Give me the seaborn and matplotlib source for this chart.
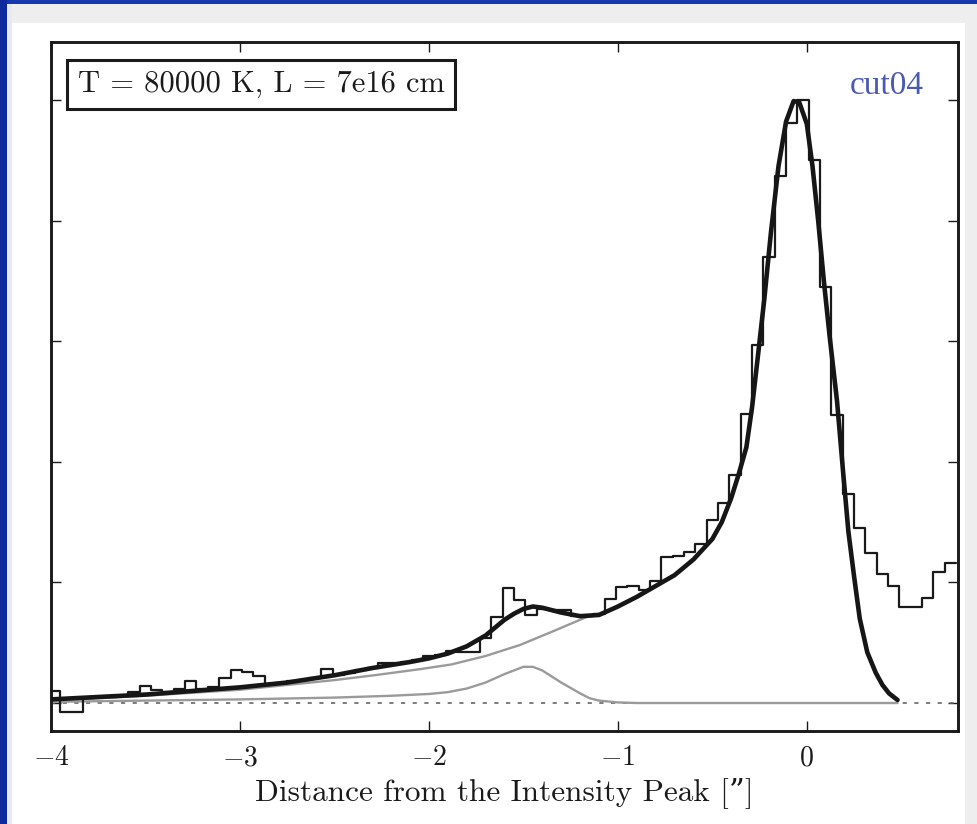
import numpy as np
import matplotlib
matplotlib.use("Agg")
import matplotlib.pyplot as plt
import seaborn as sns
from matplotlib.patches import Rectangle

# ---------------- data ----------------
bin_start = -4.01
bin_width = 0.06
hist_vals = [0.10, -0.075, -0.075, 0.04, 0.05, 0.05, 0.06, 0.09, 0.14, 0.11,
             0.09, 0.12, 0.18, 0.12, 0.13, 0.21, 0.27, 0.26, 0.22, 0.16,
             0.17, 0.18, 0.19, 0.21, 0.28, 0.23, 0.25, 0.27, 0.29, 0.33,
             0.33, 0.34, 0.36, 0.39, 0.40, 0.43, 0.42, 0.42, 0.54, 0.71,
             0.95, 0.85, 0.73, 0.78, 0.77, 0.77, 0.72, 0.72, 0.74, 0.86,
             0.96, 0.97, 0.94, 1.01, 1.21, 1.22, 1.25, 1.32, 1.52, 1.66,
             1.89, 2.40, 2.97, 3.70, 4.37, 4.81, 5.00, 4.50, 3.45, 2.39,
             1.73, 1.45, 1.24, 1.07, 0.97, 0.80, 0.80, 0.87, 1.09, 1.16]

fit_x = [-4.00, -3.75, -3.50, -3.25, -3.00, -2.75, -2.50, -2.30, -2.10, -2.00,
         -1.90, -1.80, -1.70, -1.60, -1.55, -1.50, -1.45, -1.40, -1.35, -1.30,
         -1.20, -1.10, -1.00, -0.90, -0.80, -0.70, -0.60, -0.50, -0.45, -0.40,
         -0.36, -0.32, -0.29, -0.255, -0.225, -0.19, -0.15, -0.11, -0.07, -0.04,
         0.00, 0.03, 0.06, 0.09, 0.12, 0.16, 0.19, 0.22, 0.25, 0.28,
         0.32, 0.365, 0.40, 0.435, 0.48]
fit_y = [0.03, 0.05, 0.07, 0.10, 0.13, 0.17, 0.23, 0.29, 0.34, 0.37,
         0.41, 0.47, 0.56, 0.69, 0.74, 0.78, 0.80, 0.79, 0.77, 0.75,
         0.72, 0.73, 0.80, 0.88, 0.97, 1.06, 1.19, 1.36, 1.50, 1.70,
         1.90, 2.12, 2.45, 2.93, 3.35, 3.90, 4.45, 4.82, 4.99, 4.98,
         4.80, 4.45, 4.00, 3.50, 3.05, 2.50, 1.95, 1.42, 1.05, 0.70,
         0.42, 0.25, 0.15, 0.08, 0.025]

broad_x = [-4.00, -3.50, -3.00, -2.50, -2.29, -2.05, -1.88, -1.70, -1.52, -1.35,
           -1.17, -1.10]
broad_y = [0.02, 0.06, 0.11, 0.19, 0.23, 0.28, 0.32, 0.39, 0.48, 0.59,
           0.71, 0.735]

bump_x = [-4.00, -3.50, -3.00, -2.50, -2.20, -2.00, -1.90, -1.80, -1.70, -1.60,
          -1.50, -1.45, -1.40, -1.30, -1.20, -1.15, -1.10, -1.00, -0.90, 0.00,
          0.48]
bump_y = [0.01, 0.02, 0.03, 0.045, 0.06, 0.075, 0.09, 0.12, 0.17, 0.24,
          0.30, 0.30, 0.27, 0.17, 0.08, 0.04, 0.02, 0.005, 0.0, 0.0,
          0.0]

xticks = [-4, -3, -2, -1, 0]
yticks = [0, 1, 2, 3, 4, 5]
box_label = "T = 80000 K, L = 7e16 cm"
tag_label = "cut04"
x_label = "Distance from the Intensity Peak [\u201d]"

# ---------------- style ----------------
sns.set_style("ticks")
plt.rcParams["font.family"] = ["cmr10", "DejaVu Serif"]
plt.rcParams["mathtext.fontset"] = "cm"
plt.rcParams["axes.formatter.use_mathtext"] = True
plt.rcParams["axes.unicode_minus"] = True

fig = plt.figure(figsize=(9.78, 8.24), dpi=100)
fig.patch.set_facecolor("white")

# slide-like frame around the figure
W, H = 978.0, 824.0
fig.patches.append(Rectangle((0, 1 - 23 / H), 1, 23 / H, transform=fig.transFigure,
                             fc="#eeeeee", ec="none", zorder=0))
fig.patches.append(Rectangle((965 / W, 0), 13 / W, 1, transform=fig.transFigure,
                             fc="#eeeeee", ec="none", zorder=0))
fig.patches.append(Rectangle((6 / W, 0), 6 / W, 1, transform=fig.transFigure,
                             fc="#e8e8ee", ec="none", zorder=0))
fig.patches.append(Rectangle((0, 1 - 4 / H), 1, 4 / H, transform=fig.transFigure,
                             fc="#1537b0", ec="none", zorder=1))
fig.patches.append(Rectangle((0, 0), 7 / W, 1, transform=fig.transFigure,
                             fc="#0f2a9c", ec="none", zorder=1))

ax = fig.add_axes([51 / W, (H - 731) / H, 907 / W, 689 / H])
ax.set_facecolor("white")

# zero line
ax.axhline(0, color="#666666", lw=1.2, ls=(0, (2.5, 4.5)), zorder=1)

# model components (gray)
sns.lineplot(x=broad_x, y=broad_y, ax=ax, color="#9a9a9a", lw=1.7,
             estimator=None, sort=False, zorder=2)
sns.lineplot(x=bump_x, y=bump_y, ax=ax, color="#9a9a9a", lw=1.7,
             estimator=None, sort=False, zorder=2)

# observed histogram (steps)
edges = [bin_start + bin_width * i for i in range(len(hist_vals) + 1)]
step_y = list(hist_vals) + [hist_vals[-1]]
sns.lineplot(x=edges, y=step_y, ax=ax, color="#1a1a1a", lw=1.6,
             drawstyle="steps-post", estimator=None, sort=False, zorder=3)

# total fit
sns.lineplot(x=fit_x, y=fit_y, ax=ax, color="#161616", lw=3.3,
             estimator=None, sort=False, zorder=4)

ax.set_xlim(-4.0, 0.8)
ax.set_ylim(-0.232, 5.48)
ax.set_xticks(xticks)
ax.set_yticks(yticks)
ax.set_yticklabels([])
ax.tick_params(direction="in", length=7, width=1.0, top=True, right=True,
               labelsize=20, pad=10, colors="#1a1a1a")
for s in ax.spines.values():
    s.set_linewidth(2.1)
    s.set_color("#1a1a1a")

ax.set_xlabel(x_label, fontsize=22.5, labelpad=4, color="#1a1a1a")
ax.set_ylabel("")

ax.text(0.2315, 0.938, box_label, transform=ax.transAxes, ha="center", va="center",
        fontsize=22, color="#1a1a1a",
        bbox=dict(boxstyle="square,pad=0.35", fc="white", ec="#1a1a1a", lw=2.2),
        zorder=6)
ax.text(0.921, 0.936, tag_label, transform=ax.transAxes, ha="center", va="center",
        fontsize=24, color="#4a5ab0", family=["Liberation Serif", "DejaVu Serif"],
        zorder=6)

fig.savefig("out.png", dpi=100)
